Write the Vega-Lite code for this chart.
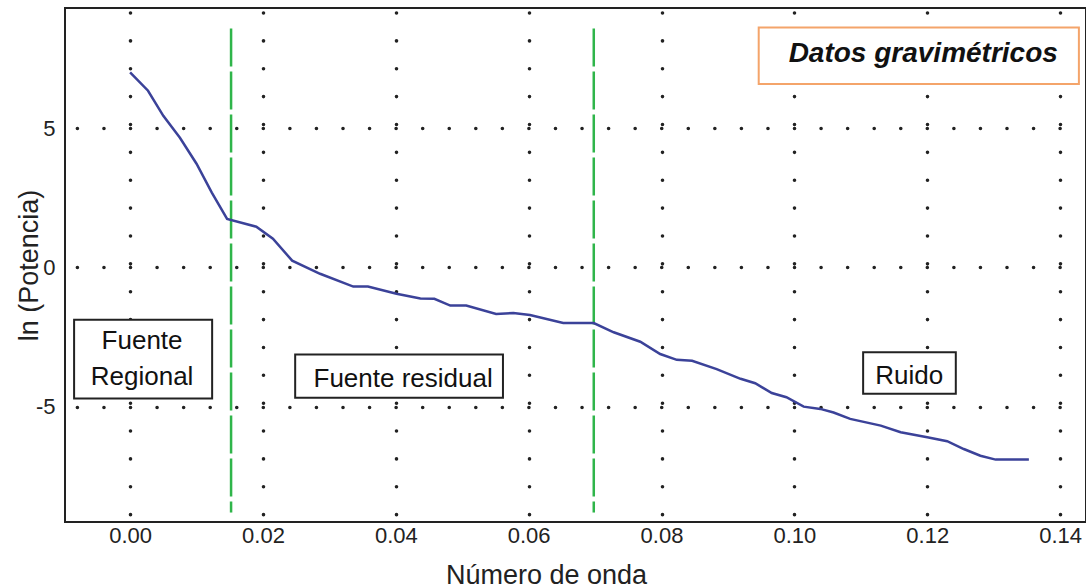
{
  "$schema": "https://vega.github.io/schema/vega-lite/v6.json",
  "width": 1021,
  "height": 514,
  "autosize": {"type": "none"},
  "padding": {"left": 65, "top": 8, "right": 0, "bottom": 66},
  "background": "white",
  "config": {
    "view": {"stroke": "#222", "strokeWidth": 2},
    "font": "Liberation Sans"
  },
  "datasets": {
    "curve": [
      {"k": 0, "p": 7.0}, {"k": 0.0027, "p": 6.34}, {"k": 0.005, "p": 5.44}, {"k": 0.0075, "p": 4.65},
      {"k": 0.01, "p": 3.72}, {"k": 0.0123, "p": 2.68}, {"k": 0.0146, "p": 1.74}, {"k": 0.019, "p": 1.46},
      {"k": 0.0215, "p": 1.03}, {"k": 0.0244, "p": 0.24}, {"k": 0.0286, "p": -0.23}, {"k": 0.0336, "p": -0.69},
      {"k": 0.0358, "p": -0.69}, {"k": 0.0401, "p": -0.95}, {"k": 0.0437, "p": -1.12}, {"k": 0.0458, "p": -1.13},
      {"k": 0.0482, "p": -1.37}, {"k": 0.0506, "p": -1.37}, {"k": 0.0551, "p": -1.67}, {"k": 0.0577, "p": -1.64},
      {"k": 0.0602, "p": -1.71}, {"k": 0.0652, "p": -2.0}, {"k": 0.0698, "p": -2.0}, {"k": 0.0728, "p": -2.33},
      {"k": 0.0768, "p": -2.67}, {"k": 0.0798, "p": -3.11}, {"k": 0.0823, "p": -3.32}, {"k": 0.0846, "p": -3.35},
      {"k": 0.0883, "p": -3.65}, {"k": 0.0919, "p": -4.0}, {"k": 0.0941, "p": -4.16}, {"k": 0.0966, "p": -4.51},
      {"k": 0.0988, "p": -4.66}, {"k": 0.1014, "p": -5.0}, {"k": 0.1039, "p": -5.08}, {"k": 0.1059, "p": -5.21},
      {"k": 0.1084, "p": -5.44}, {"k": 0.113, "p": -5.68}, {"k": 0.116, "p": -5.92}, {"k": 0.12, "p": -6.1},
      {"k": 0.123, "p": -6.24}, {"k": 0.1255, "p": -6.52}, {"k": 0.128, "p": -6.76}, {"k": 0.1303, "p": -6.9},
      {"k": 0.1353, "p": -6.9}
    ],
    "limits": [
      {"k": 0.0152, "top": 8.57, "bottom": -8.8},
      {"k": 0.0698, "top": 8.57, "bottom": -8.8}
    ],
    "boxes": [
      {"x1": -0.00843, "x2": 0.01235, "y1": -1.88, "y2": -4.71},
      {"x1": 0.02485, "x2": 0.05613, "y1": -3.13, "y2": -4.68},
      {"x1": 0.11035, "x2": 0.1243, "y1": -3.05, "y2": -4.54}
    ],
    "titlebox": [
      {"x1": 0.09463, "x2": 0.14283, "y1": 8.61, "y2": 6.58, "label": "Datos gravimétricos", "xc": 0.1194, "yc": 7.67}
    ],
    "labels": [
      {"label": "Fuente", "xc": 0.0018, "yc": -2.63},
      {"label": "Regional", "xc": 0.0018, "yc": -3.92},
      {"label": "Fuente residual", "xc": 0.0411, "yc": -4.0},
      {"label": "Ruido", "xc": 0.1173, "yc": -3.89}
    ]
  },
  "layer": [
    {
      "data": {"name": "limits"},
      "mark": {"type": "rule", "color": "#2fb54a", "strokeWidth": 2.5, "strokeDash": [38, 5]},
      "encoding": {
        "x": {
          "field": "k", "type": "quantitative",
          "scale": {"domain": [-0.0098, 0.1439], "nice": false, "zero": false},
          "axis": {
            "values": [0, 0.02, 0.04, 0.06, 0.08, 0.1, 0.12, 0.14],
            "format": ".2f",
            "domain": false, "ticks": false,
            "labelFontSize": 22, "labelPadding": 3, "labelColor": "#222",
            "title": "Número de onda", "titleFontSize": 27, "titleFontWeight": "normal", "titleColor": "#222",
            "titleX": 481, "titleY": 61, "titleBaseline": "alphabetic",
            "grid": true, "gridColor": "#222", "gridWidth": 3.6, "gridCap": "round",
            "gridDash": [0.01, 27.86], "gridDashOffset": 23.37, "gridOpacity": 1
          }
        },
        "y": {
          "field": "top", "type": "quantitative",
          "scale": {"domain": [-9.14, 9.31], "nice": false, "zero": false},
          "axis": {
            "values": [-5, 0, 5],
            "labelExpr": "replace(datum.label, '−', '-')",
            "domain": false, "ticks": false,
            "labelFontSize": 22, "labelPadding": 10, "labelColor": "#222",
            "title": "ln (Potencia)", "titleFontSize": 27, "titleFontWeight": "normal", "titleColor": "#222",
            "titleX": -28, "titleBaseline": "alphabetic",
            "grid": true, "gridColor": "#222", "gridWidth": 3.6, "gridCap": "round",
            "gridDash": [0.01, 26.55], "gridDashOffset": 14.66, "gridOpacity": 1
          }
        },
        "y2": {"field": "bottom"}
      }
    },
    {
      "data": {"name": "curve"},
      "mark": {"type": "line", "color": "#3b4299", "strokeWidth": 2.5},
      "encoding": {
        "x": {"field": "k", "type": "quantitative"},
        "y": {"field": "p", "type": "quantitative"}
      }
    },
    {
      "data": {"name": "boxes"},
      "mark": {"type": "rect", "fill": "white", "stroke": "#222", "strokeWidth": 2},
      "encoding": {
        "x": {"field": "x1", "type": "quantitative"},
        "x2": {"field": "x2"},
        "y": {"field": "y1", "type": "quantitative"},
        "y2": {"field": "y2"}
      }
    },
    {
      "data": {"name": "titlebox"},
      "mark": {"type": "rect", "fill": "white", "stroke": "#f4a46a", "strokeWidth": 2},
      "encoding": {
        "x": {"field": "x1", "type": "quantitative"},
        "x2": {"field": "x2"},
        "y": {"field": "y1", "type": "quantitative"},
        "y2": {"field": "y2"}
      }
    },
    {
      "data": {"name": "titlebox"},
      "mark": {"type": "text", "fontSize": 28, "fontWeight": "bold", "fontStyle": "italic", "color": "#111", "baseline": "middle", "align": "center"},
      "encoding": {
        "x": {"field": "xc", "type": "quantitative"},
        "y": {"field": "yc", "type": "quantitative"},
        "text": {"field": "label"}
      }
    },
    {
      "data": {"name": "labels"},
      "mark": {"type": "text", "fontSize": 26, "color": "#111", "baseline": "middle", "align": "center"},
      "encoding": {
        "x": {"field": "xc", "type": "quantitative"},
        "y": {"field": "yc", "type": "quantitative"},
        "text": {"field": "label"}
      }
    }
  ]
}
